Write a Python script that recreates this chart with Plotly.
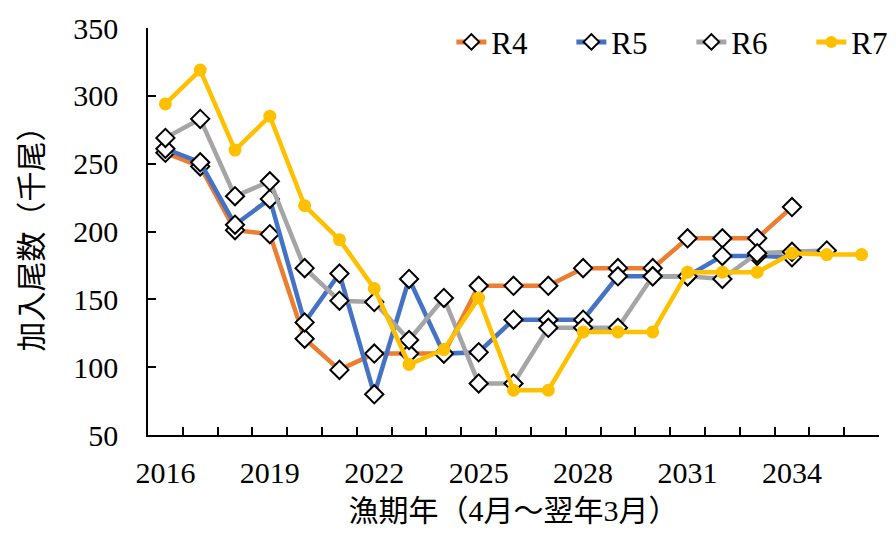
import plotly.graph_objects as go

# Fishing years (April to March of the following year)
years = list(range(2016, 2037))

# Recruitment (thousand fish) per assessment round
r4 = [258, 248, 201, 198, 121, 98, 110, 110, 110, 160, 160, 160, 173, 173, 173, 195, 195, 195, 218, None, None]
r5 = [261, 251, 205, 224, 133, 169, 80, 165, 110, 111, 135, 135, 135, 167, 167, 167, 182, 182, 181, None, None]
r6 = [269, 283, 226, 237, 173, 149, 148, 120, 151, 88, 88, 129, 129, 129, 167, 167, 165, 184, 185, 186, None]
r7 = [294, 319, 260, 285, 219, 194, 158, 102, 113, 151, 83, 83, 126, 126, 126, 170, 170, 170, 184, 183, 183]

label_years = [2016, 2019, 2022, 2025, 2028, 2031, 2034]
y_ticks = [50, 100, 150, 200, 250, 300, 350]

series = [
    ("R4", r4, "#ED7D31", "diamond"),
    ("R5", r5, "#4472C4", "diamond"),
    ("R6", r6, "#A5A5A5", "diamond"),
    ("R7", r7, "#FFC000", "circle"),
]

fig = go.Figure()
for name, vals, color, sym in series:
    if sym == "diamond":
        marker = dict(symbol="diamond", size=14, color="white",
                      line=dict(color="black", width=2))
    else:
        marker = dict(symbol="circle", size=13, color=color,
                      line=dict(color=color, width=0))
    fig.add_trace(go.Scatter(
        x=years, y=vals, name=name, mode="lines+markers",
        line=dict(color=color, width=4.5), marker=marker,
        connectgaps=False,
    ))

# Invisible trace on a second x axis that carries the boundary tick marks
fig.add_trace(go.Scatter(x=[years[0]], y=[None], xaxis="x2", showlegend=False,
                         hoverinfo="skip"))

font_family = "Liberation Serif, Noto Sans CJK JP"
x_range = [years[0] - 0.5, years[-1] + 0.5]

fig.update_layout(
    width=896, height=534,
    margin=dict(l=148, r=17, t=28, b=99, autoexpand=False),
    paper_bgcolor="white", plot_bgcolor="white",
    font=dict(family=font_family, size=30, color="black"),
    showlegend=True,
    legend=dict(orientation="h", x=0.415, xanchor="left", y=0.965, yanchor="middle",
                font=dict(size=31), entrywidth=75, entrywidthmode="pixels",
                tracegroupgap=0, bgcolor="rgba(0,0,0,0)", itemsizing="constant"),
    xaxis=dict(range=x_range, tickvals=label_years, ticktext=[str(v) for v in label_years],
               ticks="", showline=True, linecolor="black", linewidth=1.5,
               showgrid=False, zeroline=False, ticklabelstandoff=10,
               tickfont=dict(size=30),
               title=dict(text="漁期年（4月～翌年3月）", font=dict(size=30), standoff=12)),
    xaxis2=dict(range=x_range, overlaying="x", side="bottom", anchor="y",
                tickvals=[y - 0.5 for y in years] + [years[-1] + 0.5],
                ticks="inside", ticklen=8, tickwidth=1.5, tickcolor="black",
                showticklabels=False, showgrid=False, zeroline=False, showline=False),
    yaxis=dict(range=[50, 350], tickvals=y_ticks, ticks="inside", ticklen=8,
               tickwidth=1.5, tickcolor="black", showline=True, linecolor="black",
               linewidth=1.5, showgrid=False, zeroline=False, ticklabelstandoff=22,
               tickfont=dict(size=30),
               title=dict(text="加入尾数（千尾）", font=dict(size=30), standoff=22)),
)

fig.write_html("out.html")
